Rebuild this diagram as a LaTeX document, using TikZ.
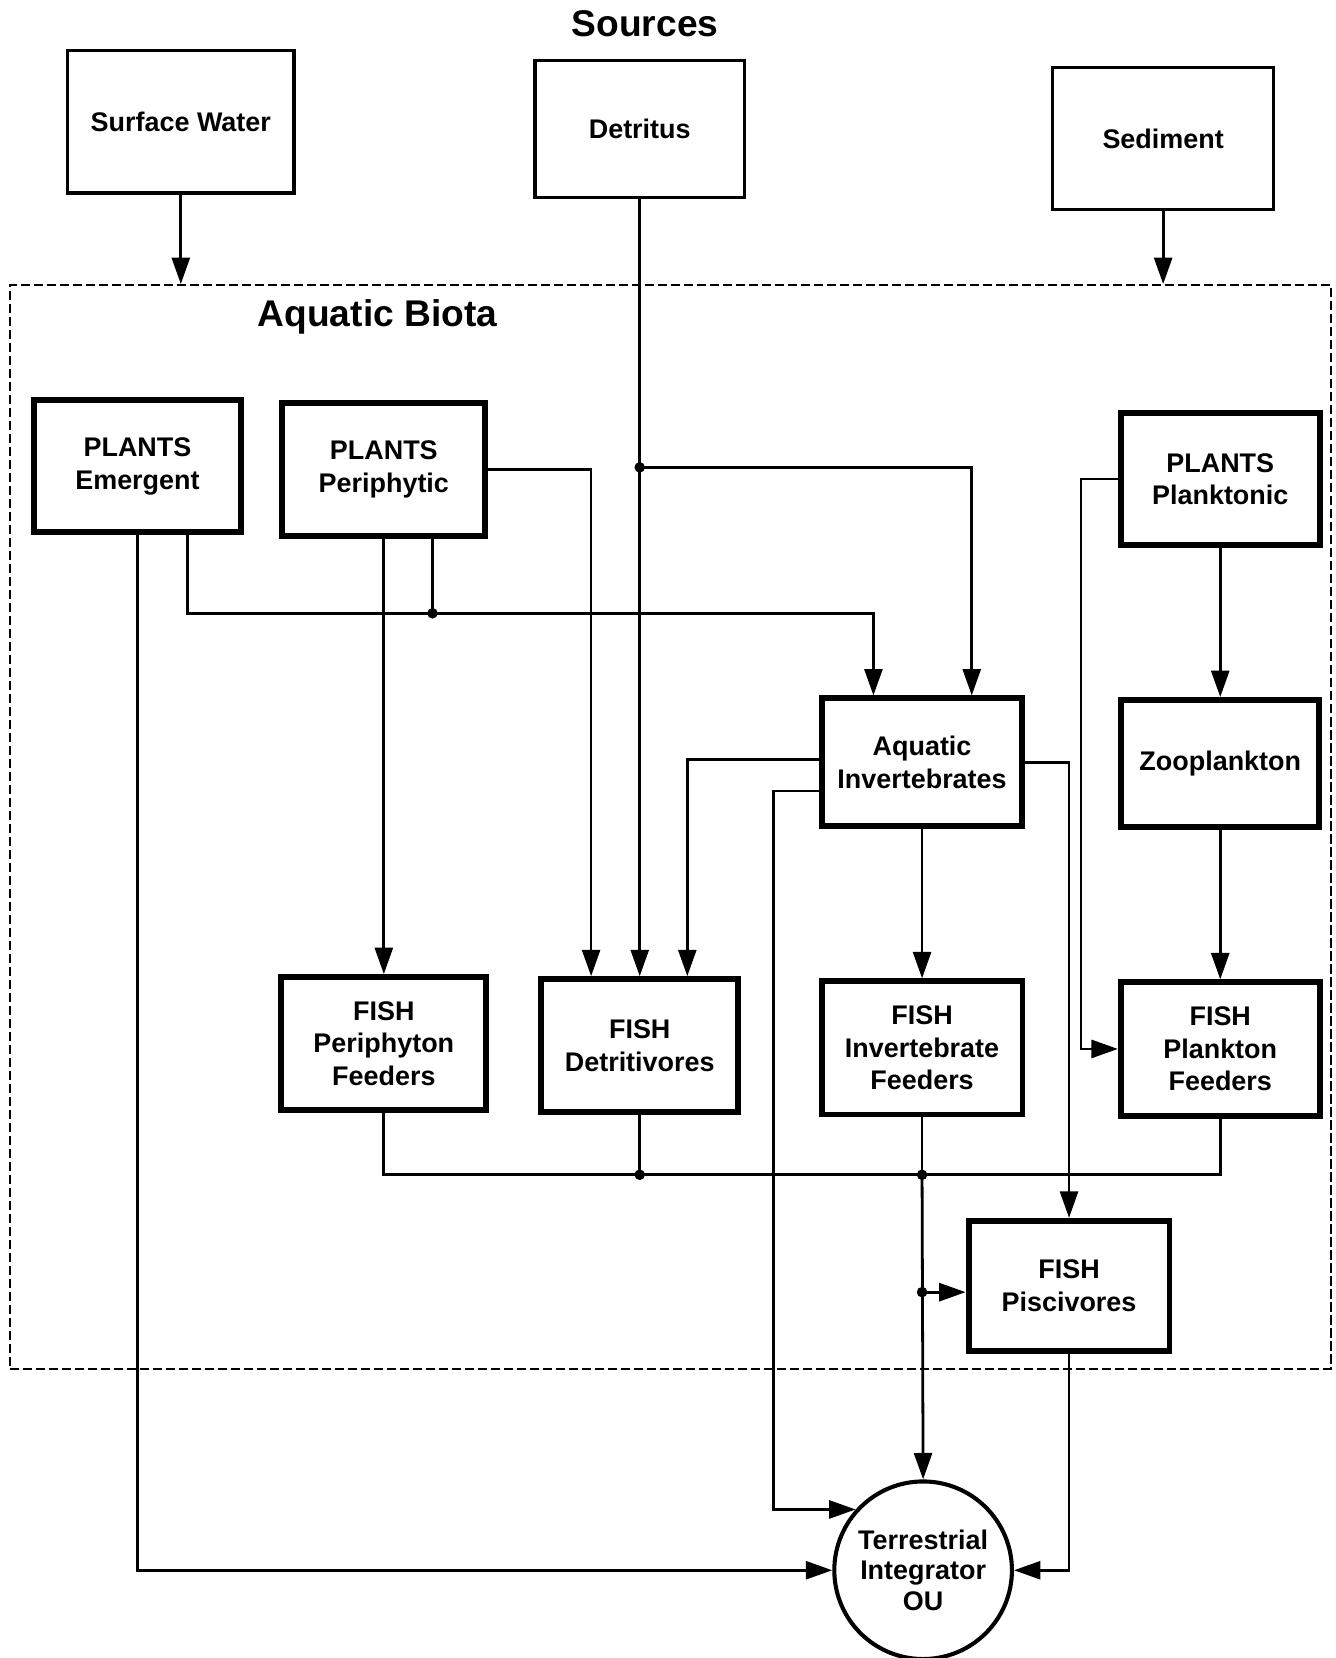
\documentclass[tikz,border=0pt]{standalone}
\usepackage{fontspec}
\setmainfont{Liberation Sans}
\usetikzlibrary{arrows.meta}
\usetikzlibrary{shapes}

\begin{document}
\begin{tikzpicture}[x = 0.02cm, y = -0.02cm, font = \bfseries]
\tikzstyle{sourceStyle} = [draw, line width = 1.8pt, minimum width = 4.2cm, minimum height = 2.66cm, inner sep = 2pt, align = center, font = \fontsize{14.5}{17.5}\selectfont\bfseries]
\tikzstyle{boxStyle} = [draw, line width = 3.2pt, minimum width = 3.8cm, minimum height = 2.5cm, inner sep = 2pt, align = center, font = \fontsize{14.5}{17.5}\selectfont\bfseries]
\tikzstyle{integratorStyle} = [draw, circle, line width = 2.2pt, minimum size = 3.36cm, inner sep = 0pt, align = center, font = \fontsize{14.5}{16.5}\selectfont\bfseries]
\tikzstyle{biotaStyle} = [draw, line width = 1.1pt, dash pattern = on 5pt off 2pt, minimum width = 25cm, minimum height = 20.5cm, inner sep = 0pt]
\tikzstyle{titleStyle} = [inner sep = 0pt, font = \fontsize{20}{24}\selectfont\bfseries]
\tikzstyle{lineStyle} = [line width = 1.5pt]
\tikzstyle{flowStyle} = [lineStyle, -{Triangle[length = 0.5cm, width = 0.34cm]}]
\tikzstyle{dotStyle} = [circle, fill, inner sep = 0pt, minimum size = 0.2cm]
\useasboundingbox (0,0) rectangle (1263,1568);
\node[biotaStyle] (biota) at (634,782) {};
\node[titleStyle] (sources) at (610,22) {Sources};
\node[titleStyle] (biotaLabel) at (357,300) {Aquatic Biota};
\node[sourceStyle, minimum width = 4.28cm, minimum height = 2.7cm] (sw) at (171,115) {Surface Water};
\node[sourceStyle, minimum width = 3.96cm, minimum height = 2.6cm] (det) at (605,122) {Detritus};
\node[sourceStyle, minimum width = 4.18cm, minimum height = 2.68cm] (sed) at (1100,131) {Sediment};
\node[boxStyle, minimum width = 3.9cm] (pem) at (130,441) {PLANTS\\Emergent};
\node[boxStyle, minimum width = 3.84cm] (pper) at (363,444) {PLANTS\\Periphytic};
\node[boxStyle, minimum width = 3.76cm] (ppl) at (1154,453) {PLANTS\\Planktonic};
\node[boxStyle, minimum width = 3.78cm, minimum height = 2.42cm] (ainv) at (872,721) {Aquatic\\Invertebrates};
\node[boxStyle, minimum width = 3.74cm, minimum height = 2.4cm] (zoo) at (1154,722) {Zooplankton};
\node[boxStyle, minimum width = 3.88cm, minimum height = 2.52cm] (fpf) at (363,987) {FISH\\Periphyton\\Feeders};
\node[boxStyle, minimum width = 3.72cm, minimum height = 2.52cm] (fdet) at (605,989) {FISH\\Detritivores};
\node[boxStyle, minimum width = 3.8cm, minimum height = 2.52cm] (fif) at (872,991) {FISH\\Invertebrate\\Feeders};
\node[boxStyle, minimum width = 3.76cm, minimum height = 2.52cm] (fplf) at (1154,992) {FISH\\Plankton\\Feeders};
\node[boxStyle, minimum width = 3.8cm, minimum height = 2.46cm] (fpis) at (1011,1216) {FISH\\Piscivores};
\node[integratorStyle] (ter) at (873,1485) {Terrestrial\\Integrator\\OU};
\node[dotStyle] (j1) at (605,442) {};
\node[dotStyle] (j2) at (409,580) {};
\node[dotStyle] (j3) at (605,1111) {};
\node[dotStyle] (j4) at (872,1111) {};
\node[dotStyle] (j5) at (872,1222) {};
\draw[flowStyle] (sw.south) -- (sw.south |- biota.north);
\draw[flowStyle] (sed.south) -- (sed.south |- biota.north);
\draw[flowStyle] (det.south) -- (fdet.north);
\draw[flowStyle] (j1.center) -| ([xshift = 0.94cm]ainv.north);
\draw[flowStyle] (pper.east) -| ([xshift = -0.92cm]fdet.north);
\draw[flowStyle] (pper.south) -- (fpf.north);
\draw[lineStyle] ([xshift = 0.92cm]pper.south) -- (j2.center);
\draw[flowStyle] ([xshift = 0.94cm]pem.south) |- (j2.center) -| ([xshift = -0.92cm]ainv.north);
\draw[flowStyle] (pem.south) |- (ter.west);
\draw[flowStyle] (ppl.west) -- ++(-0.7cm,0) |- (fplf.west);
\draw[flowStyle] (ppl.south) -- (zoo.north);
\draw[flowStyle] (zoo.south) -- (fplf.north);
\draw[flowStyle] ([yshift = 0.06cm]ainv.west) -| ([xshift = 0.9cm]fdet.north);
\draw[flowStyle] ([yshift = -0.54cm]ainv.west) -- ++(-0.86cm,0) |- (ter.138);
\draw[flowStyle] (ainv.east) -| (fpis.north);
\draw[flowStyle] (ainv.south) -- (fif.north);
\draw[lineStyle] (fpf.south) |- (j3.center) -- (j4.center) -| (fplf.south);
\draw[lineStyle] (fdet.south) -- (j3.center);
\draw[lineStyle] (fif.south) -- (j4.center);
\draw[flowStyle] (j4.center) -- (ter.north);
\draw[flowStyle] (j5.center) -- (j5 -| fpis.west);
\draw[flowStyle] (fpis.south) |- (ter.east);
\end{tikzpicture}
\end{document}
